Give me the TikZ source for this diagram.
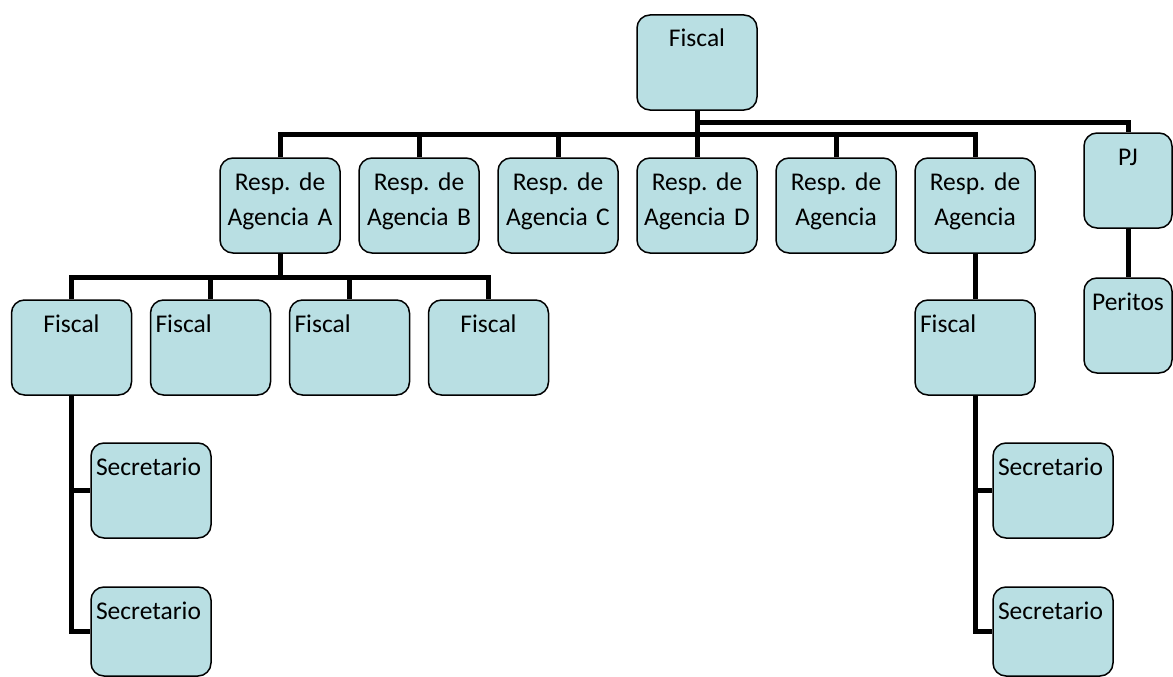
\documentclass[tikz,border=0pt]{standalone}
\usepackage{fontspec}
\setmainfont{Carlito}
\frenchspacing
\definecolor{boxblue}{RGB}{185,223,227}
\tikzset{
  orgbox/.style={draw=black, line width=1.5pt, fill=boxblue, rounded corners=13pt,
    inner xsep=5pt, inner ysep=0pt, text width=110pt, align=center,
    text height=32pt, text depth=63pt, font=\fontsize{25.5}{35}\selectfont},
  leftbox/.style={orgbox, align=left},
  narrowbox/.style={orgbox, text width=78pt},
  shortbox/.style={text depth=57pt},
  conn/.style={line width=5pt}
}
\begin{document}
\begin{tikzpicture}[x=1pt,y=-1pt]
\useasboundingbox (0,0) rectangle (1173,677);
\node[orgbox] (fis0) at (697,62.5) {Fiscal};
\node[orgbox] (resA) at (280,205.5) {Resp. de\\Agencia A};
\node[orgbox] (resB) at (419,205.5) {Resp. de\\Agencia B};
\node[orgbox] (resC) at (558,205.5) {Resp. de\\Agencia C};
\node[orgbox] (resD) at (697,205.5) {Resp. de\\Agencia D};
\node[orgbox] (resE) at (836,205.5) {Resp. de\\Agencia};
\node[orgbox] (resF) at (975,205.5) {Resp. de\\Agencia};
\node[narrowbox] (pj) at (1128,180.5) {PJ};
\node[narrowbox] (per) at (1128,325.5) {Peritos};
\node[orgbox] (fisA1) at (71.5,347.5) {Fiscal};
\node[leftbox] (fisA2) at (210.5,347.5) {Fiscal};
\node[leftbox] (fisA3) at (349.5,347.5) {Fiscal};
\node[orgbox] (fisA4) at (488.5,347.5) {Fiscal};
\node[leftbox] (fisF) at (975,347.5) {Fiscal};
\node[leftbox] (secA1) at (151,490.5) {Secretario};
\node[leftbox, shortbox] (secA2) at (151,631.5) {Secretario};
\node[leftbox] (secF1) at (1053,490.5) {Secretario};
\node[leftbox, shortbox] (secF2) at (1053,631.5) {Secretario};
\coordinate (hbar) at (0,134.5);
\coordinate (pjbar) at (0,122);
\coordinate (abar) at (0,277);
\draw[conn] (fis0.south) -- (resD.north);
\draw[conn] (resA.north) -- (resA.north |- hbar) -- (resF.north |- hbar) -- (resF.north);
\foreach \r in {resB,resC,resE}
  \draw[conn] (\r.north) -- (\r.north |- hbar);
\draw[conn] (fis0.south |- pjbar) -- (pj.north |- pjbar) -- (pj.north);
\draw[conn] (pj.south) -- (per.north);
\draw[conn] (resA.south) -- (resA.south |- abar);
\draw[conn] (fisA1.north) -- (fisA1.north |- abar) -- (fisA4.north |- abar) -- (fisA4.north);
\foreach \f in {fisA2,fisA3}
  \draw[conn] (\f.north) -- (\f.north |- abar);
\draw[conn] (resF.south) -- (fisF.north);
\draw[conn] (fisA1.south) |- (secA2.west);
\draw[conn] (fisA1.south |- secA1.west) -- (secA1.west);
\draw[conn] (fisF.south) |- (secF2.west);
\draw[conn] (fisF.south |- secF1.west) -- (secF1.west);
\end{tikzpicture}
\end{document}
